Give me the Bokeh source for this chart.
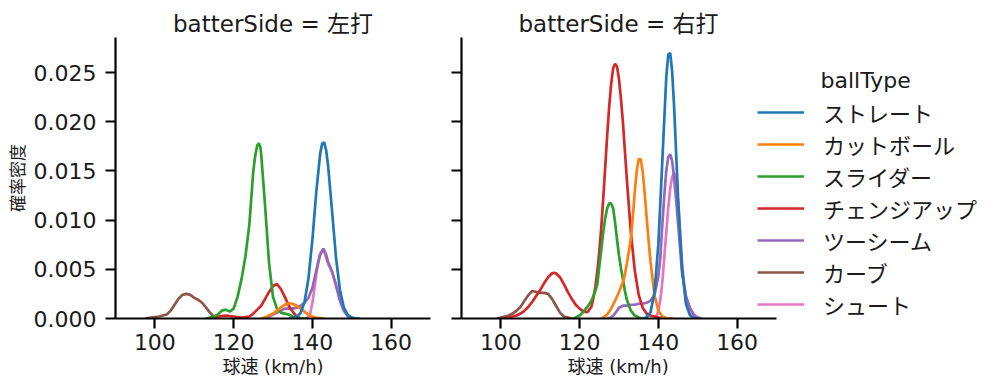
from bokeh.plotting import figure
from bokeh.layouts import row
from bokeh.models import (Legend, LegendItem, Label, NumeralTickFormatter, FixedTicker, Range1d,
                          CustomJSTickFormatter, Title)
from bokeh.embed import file_html
from bokeh.resources import INLINE

FONT = "DejaVu Sans, Noto Sans CJK JP"

BALL_TYPES = ["ストレート", "カットボール", "スライダー", "チェンジアップ", "ツーシーム", "カーブ", "シュート"]
COLORS = ["#1f77b4", "#ff7f0e", "#2ca02c", "#d62728", "#9467bd", "#8c564b", "#e377c2"]
PANELS = ["左打", "右打"]
X_TICKS = [100, 120, 140, 160]
Y_TICKS = [0.0, 0.005, 0.010, 0.015, 0.020, 0.025]

# ---- batterSide = 左打 ----
L_STR_X = [134, 135, 136, 137, 138, 139, 140, 141, 142, 142.5, 143, 143.5, 144, 145, 146, 147, 148, 149, 150, 151, 152]
L_STR_Y = [0.0, 0.00004, 0.00015, 0.00056, 0.00167, 0.00405, 0.0080, 0.0129, 0.0168, 0.0178, 0.0179, 0.0171,
           0.0155, 0.0109, 0.0062, 0.0029, 0.0011, 0.00034, 0.00008, 0.00001, 0.0]
L_CUT_X = [127, 128, 129, 130, 131, 132, 133, 134, 135, 136, 137, 138, 139, 140, 141, 142, 143]
L_CUT_Y = [0.0, 0.0001, 0.0003, 0.0005, 0.0008, 0.0011, 0.0014, 0.00155, 0.0015, 0.0013, 0.0010, 0.0007,
           0.0004, 0.0002, 0.0001, 0.00003, 0.0]
L_SLD_X = [113, 114, 115, 116, 117, 118, 119, 120, 121, 122, 123, 124, 125, 125.5, 126, 126.4, 126.8, 127,
           128, 129, 130, 131, 132, 133, 134, 135, 136, 137, 138, 139]
L_SLD_Y = [0.0, 0.0001, 0.0002, 0.0004, 0.0008, 0.0009, 0.0007, 0.0010, 0.0022, 0.0040, 0.0063, 0.0096,
           0.0150, 0.0166, 0.0176, 0.0178, 0.0174, 0.0167, 0.0114, 0.0056, 0.0022, 0.0010, 0.0006, 0.0005,
           0.0004, 0.0002, 0.0001, 0.00005, 0.00002, 0.0]
L_CHG_X = [114, 116, 118, 120, 122, 124, 125, 126, 127, 128, 129, 130, 131, 132, 133, 134, 135, 136, 137]
L_CHG_Y = [0.0, 0.0002, 0.0003, 0.0002, 0.0001, 0.0002, 0.0005, 0.0009, 0.0013, 0.0020, 0.0027, 0.0033,
           0.0035, 0.0030, 0.0022, 0.0013, 0.0007, 0.0002, 0.0]
L_2SM_X = [127, 128, 129, 130, 131, 132, 133, 134, 135, 136, 137, 138, 139, 140, 141, 142, 142.8, 143.5,
           144, 145, 146, 147, 148, 149, 150, 151]
L_2SM_Y = [0.0, 0.0001, 0.0002, 0.0004, 0.0006, 0.0008, 0.0010, 0.0010, 0.0010, 0.0011, 0.0013, 0.0016,
           0.0021, 0.0031, 0.0049, 0.0065, 0.0071, 0.0065, 0.0057, 0.0048, 0.0034, 0.0018, 0.0008, 0.0003,
           0.0001, 0.0]
L_CRV_X = [97.5, 99, 101, 103, 104, 105, 106, 107, 108, 109, 110, 111, 112, 113, 114, 115, 116]
L_CRV_Y = [0.0, 0.0001, 0.0002, 0.0004, 0.0008, 0.0014, 0.0020, 0.0024, 0.0025, 0.0024, 0.0021, 0.0019,
           0.0016, 0.0011, 0.0006, 0.0002, 0.0]
L_SHT_X = [138.5, 139, 139.5, 140, 140.5, 141, 141.5, 142, 142.5, 143, 143.5, 144, 145, 146, 147, 148, 149, 150]
L_SHT_Y = [0.0, 0.0002, 0.0006, 0.0016, 0.0030, 0.0045, 0.0058, 0.0066, 0.0069, 0.0068, 0.0062, 0.0056,
           0.0047, 0.0034, 0.0019, 0.0008, 0.0002, 0.0]

# ---- batterSide = 右打 ----
R_STR_X = [136, 137, 138, 139, 140, 141, 142, 142.5, 143, 143.5, 144, 145, 146, 147, 148, 149, 150]
R_STR_Y = [0.0, 0.00011, 0.00063, 0.00258, 0.00756, 0.0160, 0.0245, 0.0268, 0.0270, 0.0251, 0.0215,
           0.0123, 0.0051, 0.0015, 0.00033, 0.00005, 0.0]
R_CUT_X = [125.5, 126, 127, 128, 129, 130, 131, 131.5, 132, 132.5, 133, 133.5, 134, 134.5, 135, 135.5, 136,
           136.5, 137, 137.5, 138, 139, 140, 141, 142, 143.8]
R_CUT_Y = [0.0, 0.0001, 0.0004, 0.0010, 0.0018, 0.0027, 0.0037, 0.0045, 0.0056, 0.0068, 0.0081, 0.0103,
           0.0128, 0.0150, 0.0162, 0.0162, 0.0150, 0.0128, 0.0104, 0.0080, 0.0058, 0.0024, 0.0008, 0.0002,
           0.00005, 0.0]
R_SLD_X = [118.5, 119, 120, 121, 122, 123, 124, 124.5, 125, 125.5, 126, 126.5, 127, 127.5, 128, 128.5, 129,
           129.5, 130, 130.5, 131, 131.5, 132, 133, 134, 135, 136]
R_SLD_Y = [0.0, 0.0001, 0.0003, 0.0007, 0.0012, 0.0018, 0.0028, 0.0035, 0.0053, 0.0070, 0.0088, 0.0102,
           0.0112, 0.0117, 0.0117, 0.0112, 0.0098, 0.0080, 0.0064, 0.0051, 0.0040, 0.0028, 0.0019, 0.0008,
           0.0003, 0.0001, 0.0]
R_CHG_X = [100, 101, 102, 103, 104, 105, 106, 107, 108, 109, 110, 111, 112, 113, 113.5, 114, 115, 116, 117,
           118, 119, 120, 121, 122, 123, 123.5, 124, 124.5, 125, 125.5, 126, 126.5, 127, 127.5, 128, 128.5,
           129, 129.5, 130, 130.5, 131, 132, 133, 134, 135, 136, 137, 138, 139, 140, 141]
R_CHG_Y = [0.00002, 0.00005, 0.0001, 0.0002, 0.0003, 0.0005, 0.0008, 0.0012, 0.0017, 0.0023, 0.0029, 0.0036,
           0.0042, 0.0046, 0.00464, 0.0046, 0.0042, 0.0035, 0.0027, 0.0020, 0.0014, 0.0010, 0.0007, 0.00065,
           0.0012, 0.0021, 0.0032, 0.0048, 0.0068, 0.0093, 0.0122, 0.0154, 0.0186, 0.0215, 0.0238, 0.0254,
           0.0259, 0.0256, 0.0243, 0.0223, 0.0199, 0.0141, 0.0088, 0.0049, 0.0024, 0.0011, 0.0005, 0.0003,
           0.0002, 0.0001, 0.0]
R_2SM_X = [127, 128, 129, 130, 131, 132, 133, 134, 135, 136, 137, 138, 139, 139.5, 140, 140.5, 141, 141.5,
           142, 142.5, 143, 143.5, 144, 144.5, 145, 145.5, 146, 147, 148, 149, 150, 151]
R_2SM_Y = [0.0, 0.0001, 0.0005, 0.0011, 0.0013, 0.0013, 0.0014, 0.0014, 0.0015, 0.0015, 0.0016, 0.0018,
           0.0024, 0.0033, 0.0043, 0.0062, 0.0095, 0.0125, 0.0150, 0.0164, 0.0167, 0.0160, 0.0143, 0.0121,
           0.0097, 0.0072, 0.0047, 0.0023, 0.0011, 0.0004, 0.0001, 0.0]
R_CRV_X = [99, 100, 101, 102, 103, 104, 105, 106, 107, 108, 109, 110, 111, 112, 113, 114, 115, 116, 117, 118]
R_CRV_Y = [0.0, 0.0001, 0.0002, 0.0003, 0.0005, 0.0008, 0.0012, 0.0018, 0.0024, 0.0028, 0.0027, 0.0026,
           0.0026, 0.0025, 0.0020, 0.0013, 0.0006, 0.0002, 0.0001, 0.0]
R_SHT_X = [139, 139.5, 140, 140.5, 141, 141.5, 142, 142.5, 143, 143.5, 144, 144.5, 145, 145.5, 146, 146.5,
           147, 148, 149, 150]
R_SHT_Y = [0.0, 0.0002, 0.0008, 0.0019, 0.0037, 0.0062, 0.0087, 0.0112, 0.0132, 0.0144, 0.0148, 0.0140,
           0.0118, 0.0088, 0.0058, 0.0036, 0.0020, 0.0006, 0.0001, 0.0]

LEFT = [(L_STR_X, L_STR_Y), (L_CUT_X, L_CUT_Y), (L_SLD_X, L_SLD_Y), (L_CHG_X, L_CHG_Y),
        (L_2SM_X, L_2SM_Y), (L_CRV_X, L_CRV_Y), (L_SHT_X, L_SHT_Y)]
RIGHT = [(R_STR_X, R_STR_Y), (R_CUT_X, R_CUT_Y), (R_SLD_X, R_SLD_Y), (R_CHG_X, R_CHG_Y),
         (R_2SM_X, R_2SM_Y), (R_CRV_X, R_CRV_Y), (R_SHT_X, R_SHT_Y)]

Y_MAX = 0.02856
X_MIN, X_MAX = 90, 170
X_LABEL = "球速 (km/h)"
Y_LABEL = "確率密度"

# layout (pixels)
H = 385
TOP, BOTTOM = 37, 67
FRAME_W = 315                      # width of one facet frame (90..170)
PX_PER_UNIT = FRAME_W / (X_MAX - X_MIN)
P1_BL, P1_BR = 115, 16
P2_BL = 15
P2_W = 1000 - (P1_BL + FRAME_W + P1_BR)
P2_FRAME_W = P2_W - P2_BL
P2_X_END = X_MIN + P2_FRAME_W / PX_PER_UNIT
Y_PX_PER_UNIT = (H - TOP - BOTTOM) / Y_MAX


def make_fig(title, width, bl, br, x_end):
    p = figure(width=width, height=H, output_backend="svg", toolbar_location=None,
               x_range=Range1d(X_MIN, x_end), y_range=Range1d(0, Y_MAX),
               min_border_left=bl, min_border_right=br, min_border_top=TOP, min_border_bottom=BOTTOM,
               title=title)
    p.outline_line_color = None
    p.xgrid.visible = False
    p.ygrid.visible = False
    p.title.text_font = FONT
    p.title.text_font_size = "23px"
    p.title.text_font_style = "normal"
    p.title.standoff = 0
    p.title.vertical_align = "middle"
    p.title.text_color = "#1a1a1a"
    for ax in (p.xaxis[0], p.yaxis[0]):
        ax.axis_line_width = 2.2
        ax.axis_line_color = "black"
        ax.major_tick_line_width = 2.2
        ax.major_tick_out = 10
        ax.major_tick_in = 0
        ax.minor_tick_line_color = None
        ax.major_label_text_font = FONT
        ax.major_label_text_font_size = "22px"
        ax.major_label_text_color = "#1a1a1a"
        ax.axis_label_text_font = FONT
        ax.axis_label_text_font_size = "17px"
        ax.axis_label_text_font_style = "normal"
        ax.axis_label_text_color = "#1a1a1a"
    p.xaxis.ticker = FixedTicker(ticks=X_TICKS)
    p.yaxis.ticker = FixedTicker(ticks=Y_TICKS)
    p.xaxis.bounds = (X_MIN, X_MAX)
    p.yaxis.formatter = NumeralTickFormatter(format="0.000")
    p.xaxis.major_label_standoff = 5
    return p


def x_title(align, offset):
    return Title(text=X_LABEL, align=align, offset=offset, standoff=2, text_font=FONT,
                 text_font_size="18px", text_font_style="normal", text_color="#1a1a1a")


def draw(p, curves):
    rends = [None] * len(curves)
    for i in reversed(range(len(curves))):
        xs, ys = curves[i]
        rends[i] = p.line(xs, ys, line_color=COLORS[i], line_width=2.7)
    return rends


p1 = make_fig("batterSide = " + PANELS[0], P1_BL + FRAME_W + P1_BR, P1_BL, P1_BR, X_MAX)
p1.title.align = "center"
p1.yaxis.axis_label = Y_LABEL
p1.yaxis.axis_label_text_font_size = "17px"
p1.yaxis.major_label_standoff = 9
p1.yaxis.axis_label_standoff = 3
p1.add_layout(x_title("center", 0), "below")
draw(p1, LEFT)

p2 = make_fig("batterSide = " + PANELS[1], P2_W, P2_BL, 0, P2_X_END)
p2.title.align = "left"
p2.title.offset = 57
p2.yaxis.formatter = CustomJSTickFormatter(code="return ''")
p2.yaxis.major_label_standoff = 0
p2.add_layout(x_title("left", 106), "below")
r2 = draw(p2, RIGHT)

legend = Legend(items=[LegendItem(label=BALL_TYPES[i], renderers=[r2[i]]) for i in range(len(BALL_TYPES))],
                location=(296, -2), padding=0, margin=0, spacing=0, glyph_width=47, glyph_height=20,
                label_height=32, label_standoff=19, border_line_color=None, background_fill_alpha=0,
                label_text_font=FONT, label_text_font_size="22px", label_text_color="#1a1a1a")
p2.add_layout(legend, "center")
p2.add_layout(Label(x=X_MIN + (820 - 461) / PX_PER_UNIT, y=(318 - 80) / Y_PX_PER_UNIT, text="ballType",
                    text_font=FONT, text_font_size="22px", text_baseline="middle", text_color="#1a1a1a"))

layout = row(p1, p2)
open("out.html", "w").write(file_html(layout, INLINE))
